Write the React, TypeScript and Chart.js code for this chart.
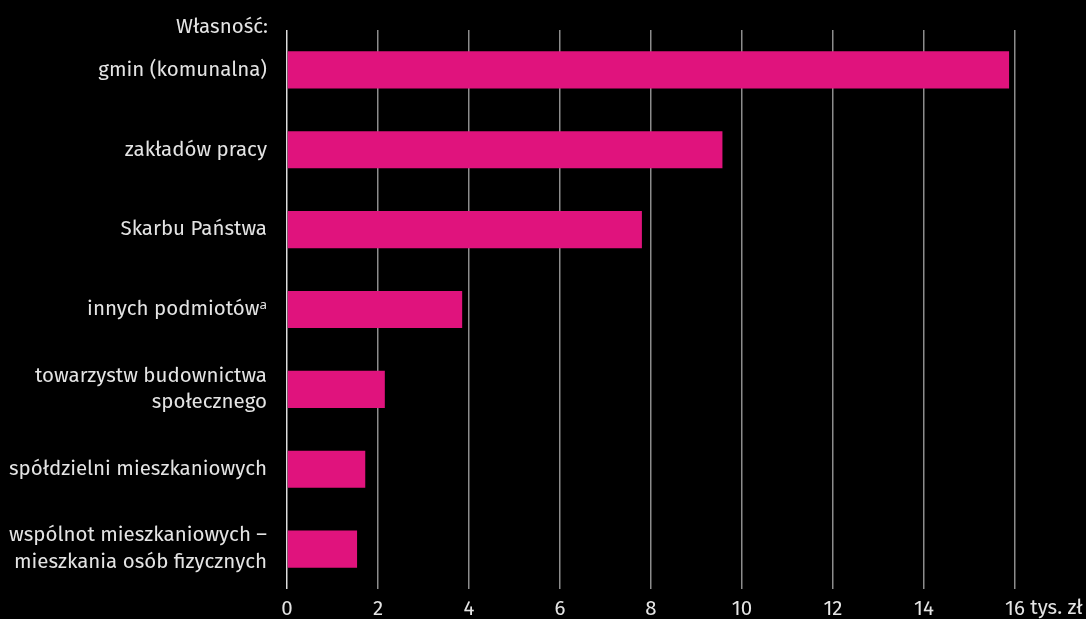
import React, { useEffect, useRef } from "react";
import { Chart, registerables } from "chart.js";

Chart.register(...registerables);

const categories: (string | string[])[] = [
  "gmin (komunalna)",
  "zakładów pracy",
  "Skarbu Państwa",
  "innych podmiotówᵃ",
  ["towarzystw budownictwa", "społecznego"],
  "spółdzielni mieszkaniowych",
  ["wspólnot mieszkaniowych –", "mieszkania osób fizycznych"],
];
const values: number[] = [15.87, 9.57, 7.8, 3.85, 2.15, 1.72, 1.54];
const xTicks: number[] = [0, 2, 4, 6, 8, 10, 12, 14, 16];
const unitLabel = "tys. zł";
const axisTitle = "Własność:";

const FONT = "'Fira Sans', 'Open Sans', 'Noto Sans', sans-serif";
const TEXT = "#e4e4e4";
const FS = 20.5;

export default function App() {
  const ref = useRef<HTMLCanvasElement | null>(null);
  useEffect(() => {
    document.body.style.margin = "0";
    document.body.style.background = "#000";
    const canvas = ref.current!;
    const extras = {
      id: "extras",
      afterDraw(chart: any) {
        const ctx = chart.ctx;
        const x = chart.scales.x;
        const area = chart.chartArea;
        ctx.save();
        ctx.font = `${FS}px ${FONT}`;
        ctx.fillStyle = TEXT;
        ctx.textBaseline = "middle";
        ctx.textAlign = "right";
        ctx.fillText(axisTitle, area.left - 19, 27);
        const last = xTicks[xTicks.length - 1];
        const px = x.getPixelForValue(last);
        const w = ctx.measureText(String(last)).width;
        ctx.textAlign = "left";
        ctx.fillText(" " + unitLabel, px + w / 2, 608);
        ctx.restore();
      },
    };
    const chart = new Chart(canvas, {
      type: "bar",
      data: {
        labels: categories,
        datasets: [
          {
            data: values,
            backgroundColor: "#e0137d",
            barPercentage: 0.93,
            categoryPercentage: 0.5,
          },
        ],
      },
      options: {
        indexAxis: "y",
        animation: false,
        responsive: false,
        maintainAspectRatio: false,
        layout: { padding: { top: 30, right: 71, left: 0, bottom: 0 } },
        plugins: { legend: { display: false }, tooltip: { enabled: false } },
        scales: {
          x: {
            min: 0,
            max: 16,
            afterBuildTicks(scale: any) {
              scale.ticks = xTicks.map((v) => ({ value: v }));
            },
            grid: {
              color: (c: any) => (c.tick && c.tick.value === 0 ? "#dcdcdc" : "#8c8c8c"),
              lineWidth: 1.5,
              drawTicks: false,
            },
            border: { display: false },
            ticks: {
              color: TEXT,
              font: { size: FS, family: FONT },
              padding: 8,
              maxRotation: 0,
            },
            afterFit(scale: any) {
              scale.height = 30;
              scale.paddingLeft = 0;
              scale.paddingRight = 0;
            },
          },
          y: {
            grid: { display: false },
            border: { display: false },
            ticks: {
              color: TEXT,
              font: { size: FS, family: FONT, lineHeight: 1.3 },
              padding: 12,
            },
            afterFit(scale: any) {
              scale.width = 287;
              scale.paddingTop = 0;
              scale.paddingBottom = 0;
            },
          },
        },
      },
      plugins: [extras],
    });
    return () => chart.destroy();
  }, []);
  return (
    <div style={{ width: 1086, height: 619, background: "#000" }}>
      <canvas ref={ref} width={1086} height={619} style={{ display: "block" }} />
    </div>
  );
}
